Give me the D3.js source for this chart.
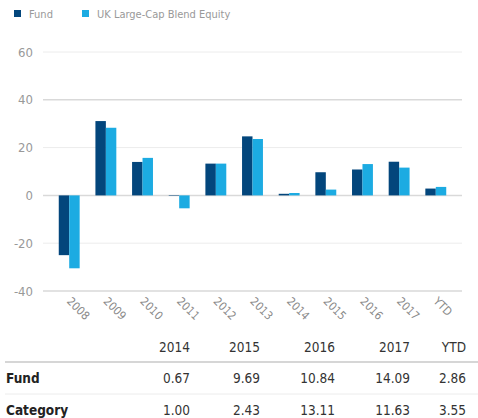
<!DOCTYPE html>
<html>
<head>
<meta charset="utf-8">
<script src="https://cdn.jsdelivr.net/npm/d3@7"></script>
<style>
body { margin: 0; background: #fff; }
svg { font-family: "DejaVu Sans Condensed", "DejaVu Sans", sans-serif; font-stretch: condensed; }
</style>
</head>
<body>
<svg class="main" width="478" height="418"></svg>
<script>
var years = ["2008", "2009", "2010", "2011", "2012", "2013", "2014", "2015", "2016", "2017", "YTD"],
    fund = [-25.0, 31.1, 14.0, -0.2, 13.3, 24.7, 0.67, 9.69, 10.84, 14.09, 2.86],
    category = [-30.5, 28.3, 15.7, -5.4, 13.3, 23.6, 1.00, 2.43, 13.11, 11.63, 3.55],
    yTicks = [-40, -20, 0, 20, 40, 60],
    tableYears = ["2014", "2015", "2016", "2017", "YTD"],
    tableFund = ["0.67", "9.69", "10.84", "14.09", "2.86"],
    tableCat = ["1.00", "2.43", "13.11", "11.63", "3.55"];

var fundColor = "#03467c",
    catColor = "#1cabe2";

var svg = d3.select(".main");

// legend
var legend = svg.append("g");
[["Fund", fundColor, 14], ["UK Large-Cap Blend Equity", catColor, 82]].forEach(function(d) {
    legend.append("rect").attr("x", d[2]).attr("y", 10).attr("width", 7).attr("height", 7).attr("fill", d[1]);
    legend.append("text").attr("x", d[2] + 15).attr("y", 18)
        .attr("font-size", 11).attr("fill", "#999").text(d[0]);
});

var x = d3.scaleBand().domain(years).range([43, 462]).paddingInner(0.43).paddingOuter(0.43),
    x1 = d3.scaleBand().domain(["fund", "cat"]).range([0, x.bandwidth()]),
    y = d3.scaleLinear().domain([-40, 60]).range([291, 52]);

// grid
var grid = svg.append("g");
grid.selectAll("line").data(yTicks).join("line")
    .attr("x1", 43).attr("x2", 462)
    .attr("y1", function(d) { return y(d); }).attr("y2", function(d) { return y(d); })
    .attr("stroke", function(d) { return d % 40 === 0 ? "#d9d9d9" : "#ececec"; })
    .attr("stroke-width", function(d) { return d % 40 === 0 ? 1.5 : 1; });

grid.selectAll("text").data(yTicks).join("text")
    .attr("x", 33).attr("y", function(d) { return y(d) + 4.5; })
    .attr("text-anchor", "end").attr("font-size", 13).attr("fill", "#999")
    .text(function(d) { return d; });

// bars
var groups = svg.append("g").selectAll("g").data(years).join("g")
    .attr("transform", function(d) { return "translate(" + x(d) + ",0)"; });

groups.append("rect")
    .attr("x", x1("fund")).attr("width", x1.bandwidth())
    .attr("y", function(d, i) { return y(Math.max(0, fund[i])); })
    .attr("height", function(d, i) { return Math.abs(y(fund[i]) - y(0)); })
    .attr("fill", fundColor);

groups.append("rect")
    .attr("x", x1("cat")).attr("width", x1.bandwidth())
    .attr("y", function(d, i) { return y(Math.max(0, category[i])); })
    .attr("height", function(d, i) { return Math.abs(y(category[i]) - y(0)); })
    .attr("fill", catColor);

// rotated year labels
svg.append("g").selectAll("text").data(years).join("text")
    .attr("transform", function(d) {
        return "translate(" + (x(d) + x.bandwidth() / 2 - 3) + ",302) rotate(45)";
    })
    .attr("font-size", 11.5).attr("fill", "#8a8a8a")
    .text(function(d) { return d; });

// table
var cols = [190, 260, 335, 410, 466];
var table = svg.append("g").attr("font-size", 13.5);

table.selectAll(".hd").data(tableYears).join("text").attr("class", "hd")
    .attr("x", function(d, i) { return cols[i]; }).attr("y", 352)
    .attr("text-anchor", "end").attr("fill", "#333").text(function(d) { return d; });

table.append("line").attr("x1", 5).attr("x2", 478).attr("y1", 362).attr("y2", 362)
    .attr("stroke", "#d6d6d6").attr("stroke-width", 2);
table.append("line").attr("x1", 5).attr("x2", 478).attr("y1", 394).attr("y2", 394)
    .attr("stroke", "#ececec").attr("stroke-width", 1);

[["Fund", tableFund, 383], ["Category", tableCat, 415]].forEach(function(r) {
    table.append("text").attr("x", 6).attr("y", r[2]).attr("font-weight", "bold")
        .attr("fill", "#222").text(r[0]);
    table.selectAll(".v" + r[2]).data(r[1]).join("text").attr("class", "v" + r[2])
        .attr("x", function(d, i) { return cols[i]; }).attr("y", r[2])
        .attr("text-anchor", "end").attr("fill", "#333").text(function(d) { return d; });
});
</script>
</body>
</html>
